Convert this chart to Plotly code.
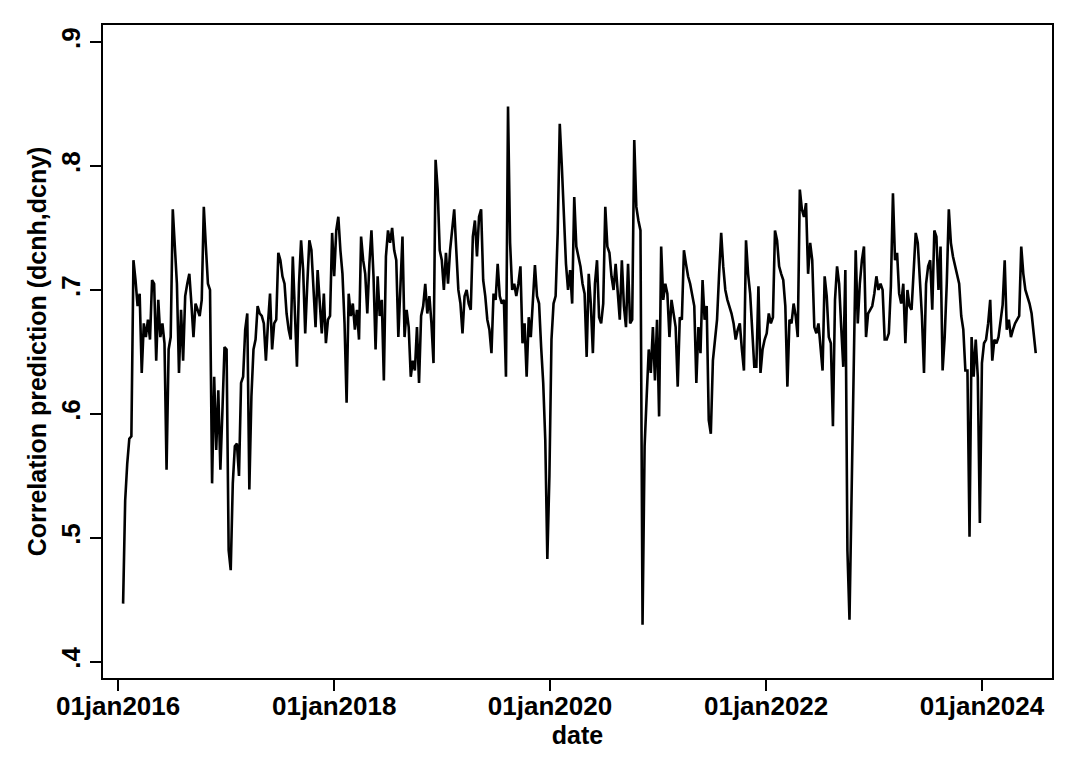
import pandas as pd
import plotly.graph_objects as go

# weekly correlation prediction (week starting 18jan2016)
corr_2016 = [
    0.447, 0.530, 0.560, 0.580, 0.582, 0.724, 0.708, 0.687, 0.697, 0.633,
    0.673, 0.662, 0.676, 0.660, 0.708, 0.705, 0.643, 0.692, 0.662, 0.673,
    0.657, 0.555, 0.652, 0.662, 0.765, 0.730, 0.705, 0.633, 0.684, 0.643,
    0.695, 0.705, 0.713, 0.689, 0.662, 0.689, 0.684, 0.679, 0.692, 0.767,
    0.735, 0.705, 0.700, 0.544, 0.630, 0.571, 0.619, 0.555, 0.603, 0.654,
    0.652, 0.490, 0.474, 0.544, 0.574, 0.576, 0.550, 0.625, 0.630, 0.668,
    0.681, 0.539, 0.614, 0.652, 0.660, 0.687, 0.681, 0.679, 0.673, 0.643,
    0.673, 0.697, 0.652, 0.673, 0.676, 0.730,
]
corr_2017 = [
    0.724, 0.711, 0.705, 0.681, 0.668, 0.660, 0.727, 0.679, 0.638, 0.705,
    0.740, 0.716, 0.665, 0.705, 0.740, 0.732, 0.700, 0.670, 0.716, 0.687,
    0.665, 0.697, 0.657, 0.676, 0.679, 0.746, 0.711, 0.748, 0.759, 0.732,
    0.713, 0.673, 0.609, 0.697, 0.679, 0.689, 0.668, 0.684, 0.660, 0.743,
    0.724, 0.713, 0.681, 0.721, 0.748, 0.711, 0.652, 0.711, 0.679, 0.692,
    0.627, 0.727, 0.748, 0.738, 0.750, 0.732, 0.724, 0.662, 0.700, 0.743,
    0.662, 0.684, 0.670, 0.630, 0.643, 0.635, 0.670, 0.625, 0.679, 0.687,
    0.705, 0.681, 0.695, 0.673, 0.641, 0.805, 0.781, 0.732, 0.724, 0.700,
    0.730, 0.705,
]
corr_2019 = [
    0.732, 0.748, 0.765, 0.732, 0.700, 0.689, 0.665, 0.695, 0.700, 0.689,
    0.684, 0.743, 0.756, 0.727, 0.759, 0.765, 0.708, 0.695, 0.676, 0.668,
    0.649, 0.697, 0.692, 0.721, 0.695, 0.689, 0.692, 0.630, 0.848, 0.738,
    0.700, 0.705, 0.695, 0.705, 0.719, 0.657, 0.673, 0.630, 0.678, 0.662,
    0.689, 0.720, 0.695, 0.689, 0.654, 0.625, 0.579, 0.483, 0.550, 0.660,
    0.689, 0.695, 0.746, 0.834, 0.800, 0.754, 0.721, 0.700, 0.716, 0.689,
    0.775, 0.735, 0.727, 0.719, 0.705, 0.697, 0.646, 0.713, 0.689, 0.649,
    0.705, 0.724, 0.678, 0.673, 0.689, 0.767, 0.735, 0.730, 0.711, 0.700,
    0.721, 0.695,
]
corr_2020 = [
    0.676, 0.724, 0.687, 0.670, 0.721, 0.673, 0.676, 0.821, 0.767, 0.756,
    0.748, 0.430, 0.574, 0.614, 0.652, 0.633, 0.670, 0.627, 0.676, 0.598,
    0.735, 0.692, 0.705, 0.697, 0.662, 0.692, 0.681, 0.670, 0.622, 0.678,
    0.676, 0.732, 0.721, 0.711, 0.705, 0.697, 0.687, 0.625, 0.670, 0.649,
    0.708, 0.676, 0.687, 0.595, 0.584, 0.643, 0.660, 0.676, 0.713, 0.746,
    0.719, 0.700, 0.692, 0.687, 0.681, 0.673, 0.660, 0.668, 0.673, 0.652,
    0.635, 0.740, 0.713, 0.697, 0.662, 0.638, 0.638, 0.703, 0.633, 0.652,
    0.660, 0.665, 0.681, 0.673, 0.678, 0.748, 0.740, 0.719, 0.713, 0.708,
    0.687, 0.622, 0.676,
]
corr_2022 = [
    0.673, 0.689, 0.679, 0.662, 0.781, 0.765, 0.759, 0.770, 0.713, 0.738,
    0.724, 0.670, 0.665, 0.673, 0.652, 0.635, 0.711, 0.695, 0.662, 0.657,
    0.590, 0.692, 0.719, 0.705, 0.670, 0.638, 0.716, 0.490, 0.434, 0.531,
    0.641, 0.732, 0.673, 0.705, 0.724, 0.735, 0.662, 0.681, 0.684, 0.687,
    0.697, 0.711, 0.700, 0.705, 0.700, 0.660, 0.660, 0.665, 0.703, 0.778,
    0.724, 0.730, 0.697, 0.689, 0.705, 0.657, 0.700, 0.687, 0.684, 0.716,
    0.746, 0.738, 0.708, 0.679, 0.633, 0.705, 0.719, 0.724, 0.684, 0.748,
    0.743, 0.700, 0.735, 0.635, 0.662, 0.705, 0.765, 0.738, 0.727, 0.719,
    0.711, 0.705,
]
corr_2023 = [
    0.679, 0.668, 0.635, 0.635, 0.501, 0.662, 0.630, 0.660, 0.630, 0.512,
    0.641, 0.657, 0.660, 0.673, 0.692, 0.643, 0.660, 0.657, 0.662, 0.673,
    0.688, 0.724, 0.668, 0.676, 0.662, 0.668, 0.673, 0.676, 0.679, 0.735,
    0.713, 0.700, 0.695, 0.689, 0.681, 0.662, 0.649,
]

corr = corr_2016 + corr_2017 + corr_2019 + corr_2020 + corr_2022 + corr_2023
dates = pd.date_range("2016-01-18", periods=len(corr), freq="7D")

y_ticks = [0.4, 0.5, 0.6, 0.7, 0.8, 0.9]
y_labels = [".4", ".5", ".6", ".7", ".8", ".9"]
x_ticks = ["2016-01-01", "2018-01-01", "2020-01-01", "2022-01-01", "2024-01-01"]
x_labels = ["01jan2016", "01jan2018", "01jan2020", "01jan2022", "01jan2024"]

fig = go.Figure()
fig.add_trace(go.Scatter(x=dates, y=corr, mode="lines",
                         line=dict(color="black", width=2.6), showlegend=False))

tick_font = dict(family="Liberation Sans, Arial, sans-serif", size=26,
                 color="black", weight="bold")
title_font = dict(family="Liberation Sans, Arial, sans-serif", size=25,
                  color="black", weight="bold")

# page body has an 8px margin, so the figure is sized to fit inside it
fig.update_layout(
    width=1064, height=752,
    margin=dict(l=95, r=20, t=17, b=82, autoexpand=False),
    paper_bgcolor="white", plot_bgcolor="white",
)
fig.update_xaxes(
    range=["2015-11-11", "2024-08-25"],
    tickvals=x_ticks, ticktext=x_labels, tickfont=tick_font,
    showgrid=False, zeroline=False, automargin=False,
    showline=True, mirror=True, linecolor="black", linewidth=2,
    ticks="outside", ticklen=11, tickwidth=2, tickcolor="black",
    ticklabelstandoff=-7,
    title=dict(text="date", font=title_font, standoff=0),
)
fig.update_yaxes(
    range=[0.387, 0.9137],
    tickvals=y_ticks, ticktext=y_labels, tickangle=-90, tickfont=tick_font,
    showgrid=False, zeroline=False, automargin=False,
    showline=True, mirror=True, linecolor="black", linewidth=2,
    ticks="outside", ticklen=11, tickwidth=2, tickcolor="black",
    title=dict(text="Correlation prediction (dcnh,dcny)", font=title_font,
               standoff=2),
)

fig.write_html("out.html")
